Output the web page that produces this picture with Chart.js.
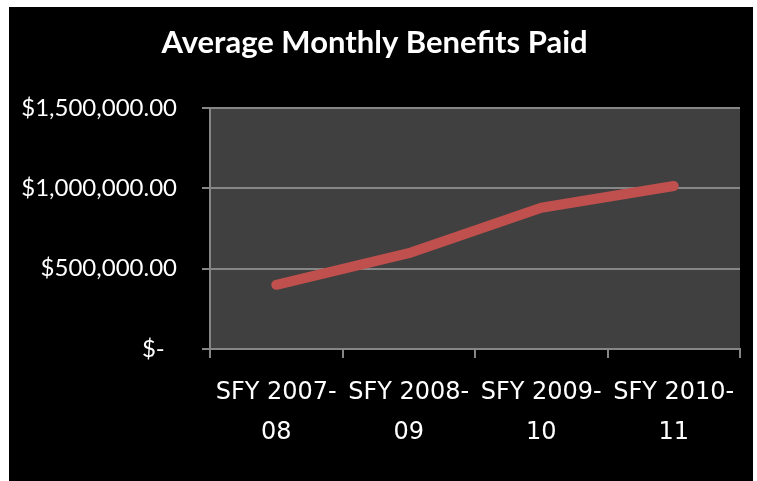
<!DOCTYPE html>
<html>
<head>
<meta charset="utf-8">
<script src="https://cdn.jsdelivr.net/npm/chart.js@4/dist/chart.umd.min.js"></script>
<style>
  html, body { margin: 0; padding: 0; background: #ffffff; }
  canvas { display: block; }
</style>
</head>
<body>
<canvas id="c" width="757" height="481"></canvas>
<script>
const chartTitle = "Average Monthly Benefits Paid";
const categories = [["SFY 2007-", "08"], ["SFY 2008-", "09"], ["SFY 2009-", "10"], ["SFY 2010-", "11"]];
const benefitsPaid = [400000, 597000, 880000, 1015000];
const yTickValues = [0, 500000, 1000000, 1500000];
const yTickLabels = ["$-  ", "$500,000.00", "$1,000,000.00", "$1,500,000.00"];

const framePlugin = {
  id: 'frame',
  beforeDraw(chart) {
    const ctx = chart.ctx;
    ctx.save();
    ctx.fillStyle = '#ffffff';
    ctx.fillRect(0, 0, chart.width, chart.height);
    ctx.fillStyle = '#000000';
    ctx.fillRect(9, 7, chart.width - 13, chart.height - 7);
    const a = chart.chartArea;
    ctx.fillStyle = '#404040';
    ctx.fillRect(a.left, a.top, a.right - a.left, a.bottom - a.top);
    ctx.restore();
  }
};

new Chart(document.getElementById('c'), {
  type: 'line',
  data: {
    labels: categories,
    datasets: [{
      label: chartTitle,
      data: benefitsPaid,
      borderColor: '#C0504D',
      backgroundColor: '#C0504D',
      borderWidth: 10,
      borderCapStyle: 'round',
      borderJoinStyle: 'round',
      pointRadius: 0,
      tension: 0,
      fill: false
    }]
  },
  options: {
    responsive: false,
    animation: false,
    devicePixelRatio: 1,
    layout: { padding: { left: 9, right: 17, top: 7, bottom: 0 } },
    plugins: {
      legend: { display: false },
      tooltip: { enabled: false },
      title: {
        display: true,
        text: chartTitle,
        color: '#ffffff',
        font: { family: 'Lato', size: 31, weight: 'bold', lineHeight: 1.2 },
        padding: { top: 17, bottom: 47 }
      }
    },
    scales: {
      x: {
        type: 'category',
        offset: true,
        grid: {
          display: true,
          offset: true,
          drawOnChartArea: false,
          drawTicks: true,
          tickLength: 9,
          color: '#868686',
          lineWidth: 2
        },
        border: { display: true, color: '#868686', width: 2 },
        ticks: {
          color: '#ffffff',
          maxRotation: 0,
          autoSkip: false,
          padding: 15,
          font: { family: 'DejaVu Sans', size: 24, lineHeight: 1.65 }
        },
        afterFit(scale) { scale.height = 132; }
      },
      y: {
        min: 0,
        max: 1500000,
        afterBuildTicks(scale) { scale.ticks = yTickValues.map(v => ({ value: v })); },
        grid: {
          color: '#868686',
          lineWidth: 2,
          drawTicks: true,
          tickLength: 8
        },
        border: { display: true, color: '#868686', width: 2 },
        ticks: {
          color: '#ffffff',
          padding: 25,
          font: { family: 'Lato', size: 24 },
          callback(value) {
            const i = yTickValues.indexOf(value);
            return i >= 0 ? yTickLabels[i] : '';
          }
        },
        afterFit(scale) { scale.width = 201; }
      }
    }
  },
  plugins: [framePlugin]
});
</script>
</body>
</html>
